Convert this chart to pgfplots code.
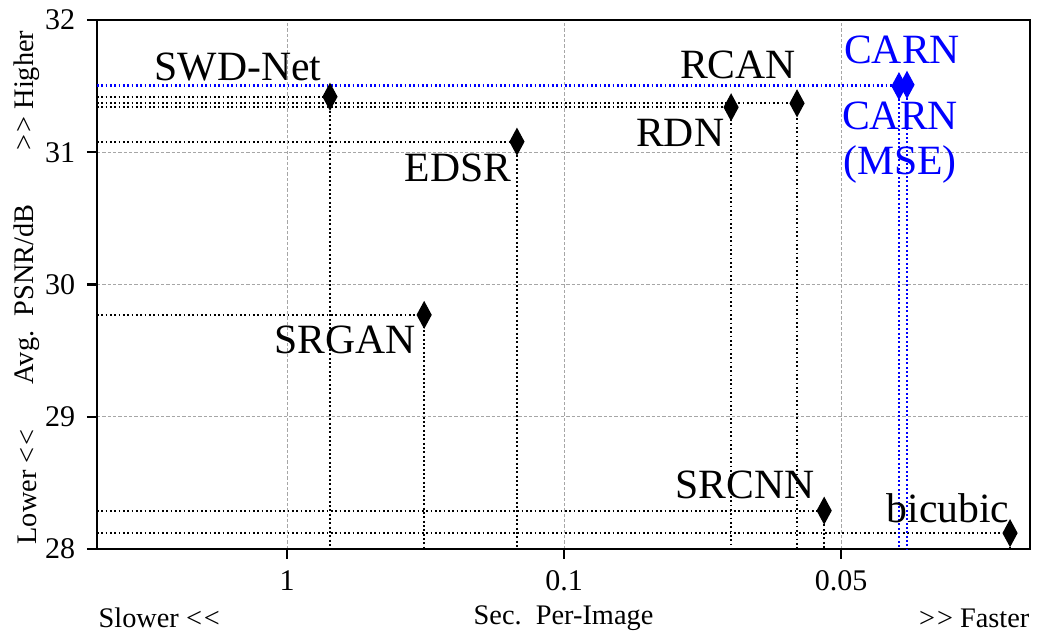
\documentclass[border=0pt]{standalone}
\usepackage{fontspec}
\setmainfont{Liberation Serif}
\usepackage{pgfplots}
\pgfplotsset{compat=1.18}
\definecolor{cblue}{RGB}{0,0,255}
\begin{document}
\begin{tikzpicture}[
  guide/.style={black, line width=0.55pt, dash pattern=on 0.55pt off 0.75pt},
  bguide/.style={cblue, line width=0.55pt, dash pattern=on 0.55pt off 0.75pt},
  lbl/.style={font=\fontsize{12.5}{14}\selectfont, inner sep=0pt},
]
\begin{axis}[
  scale only axis, width=279.9pt, height=158.7pt,
  xmin=-0.686, xmax=2.682, ymin=28, ymax=32,
  xtick={0,1,2}, xticklabels={1,0.1,0.05},
  ytick={28,29,30,31,32},
  tick align=outside, xtick pos=bottom, ytick pos=left,
  major tick length=3pt,
  grid=major, grid style={black!35, line width=0.3pt, dash pattern=on 1pt off 0.6pt},
  tick label style={font=\fontsize{9}{10}\selectfont},
  /pgf/number format/assume math mode=true,
  axis line style={line width=0.65pt},
  tick style={line width=0.65pt, black},
  clip=false,
]
% guide lines
\addplot[guide] coordinates {(-0.686,31.42) (0.155,31.42) (0.155,28)};
\addplot[guide] coordinates {(-0.686,29.77) (0.495,29.77) (0.495,28)};
\addplot[guide] coordinates {(-0.686,31.08) (0.830,31.08) (0.830,28)};
\addplot[guide] coordinates {(-0.686,31.34) (1.603,31.34) (1.603,28)};
\addplot[guide] coordinates {(-0.686,31.37) (1.841,31.37) (1.841,28)};
\addplot[guide] coordinates {(-0.686,28.29) (1.939,28.29) (1.939,28)};
\addplot[guide] coordinates {(-0.686,28.12) (2.610,28.12) (2.610,28)};
\addplot[bguide] coordinates {(-0.686,31.50) (2.209,31.50) (2.209,28)};
\addplot[bguide] coordinates {(-0.686,31.51) (2.238,31.51) (2.238,28)};
% markers
\addplot[only marks, mark=diamond*, mark size=3.8pt, mark options={xscale=0.72, fill=black, draw=black}] coordinates {
 (0.155,31.42) (0.495,29.77) (0.830,31.08) (1.603,31.34) (1.841,31.37) (1.939,28.29) (2.610,28.12)};
\addplot[only marks, mark=diamond*, mark size=3.8pt, mark options={xscale=0.72, fill=cblue, draw=cblue}] coordinates {
 (2.209,31.50) (2.238,31.51)};
% labels
\node[lbl] at (axis cs:-0.177,31.645) {SWD-Net};
\node[lbl] at (axis cs:1.628,31.66) {RCAN};
\node[lbl, text=cblue] at (axis cs:2.220,31.773) {CARN};
\node[lbl, text=cblue, align=center] at (axis cs:2.213,31.075) {CARN\\[-0.5pt](MSE)};
\node[lbl] at (axis cs:1.419,31.146) {RDN};
\node[lbl] at (axis cs:0.617,30.881) {EDSR};
\node[lbl] at (axis cs:0.209,29.58) {SRGAN};
\node[lbl] at (axis cs:1.653,28.484) {SRCNN};
\node[lbl] at (axis cs:2.386,28.31) {bicubic};
\coordinate (SW) at (rel axis cs:0,0);
\coordinate (NW) at (rel axis cs:0,1);
\coordinate (SE) at (rel axis cs:1,0);
\coordinate (NE) at (rel axis cs:1,1);
\coordinate (W) at (rel axis cs:0,0.5);
\coordinate (S) at (rel axis cs:0.5,0);
\end{axis}
\begin{scope}[every node/.style={font=\fontsize{8.5}{10}\selectfont, inner sep=0pt}]
\node[anchor=west] at ([xshift=0.3pt, yshift=-20.7pt]SW) {Slower <\kern0.6pt<};
\node at ([yshift=-20.7pt]S) {Sec.\ \ Per-Image};
\node[anchor=east] at ([yshift=-20.7pt]SE) {>\kern0.6pt> Faster};
\node[rotate=90, anchor=west] at ([xshift=-21pt, yshift=1.2pt]SW) {Lower <\kern0.6pt<};
\node[rotate=90] at ([xshift=-21pt, yshift=-3pt]W) {Avg.\ \ PSNR/dB};
\node[rotate=90, anchor=east] at ([xshift=-21pt, yshift=-3pt]NW) {>\kern0.6pt> Higher};
\end{scope}
\pgfresetboundingbox
\path ([xshift=-29.1pt, yshift=-24.9pt]SW) rectangle ([xshift=5.1pt, yshift=6pt]NE);
\end{tikzpicture}
\end{document}
